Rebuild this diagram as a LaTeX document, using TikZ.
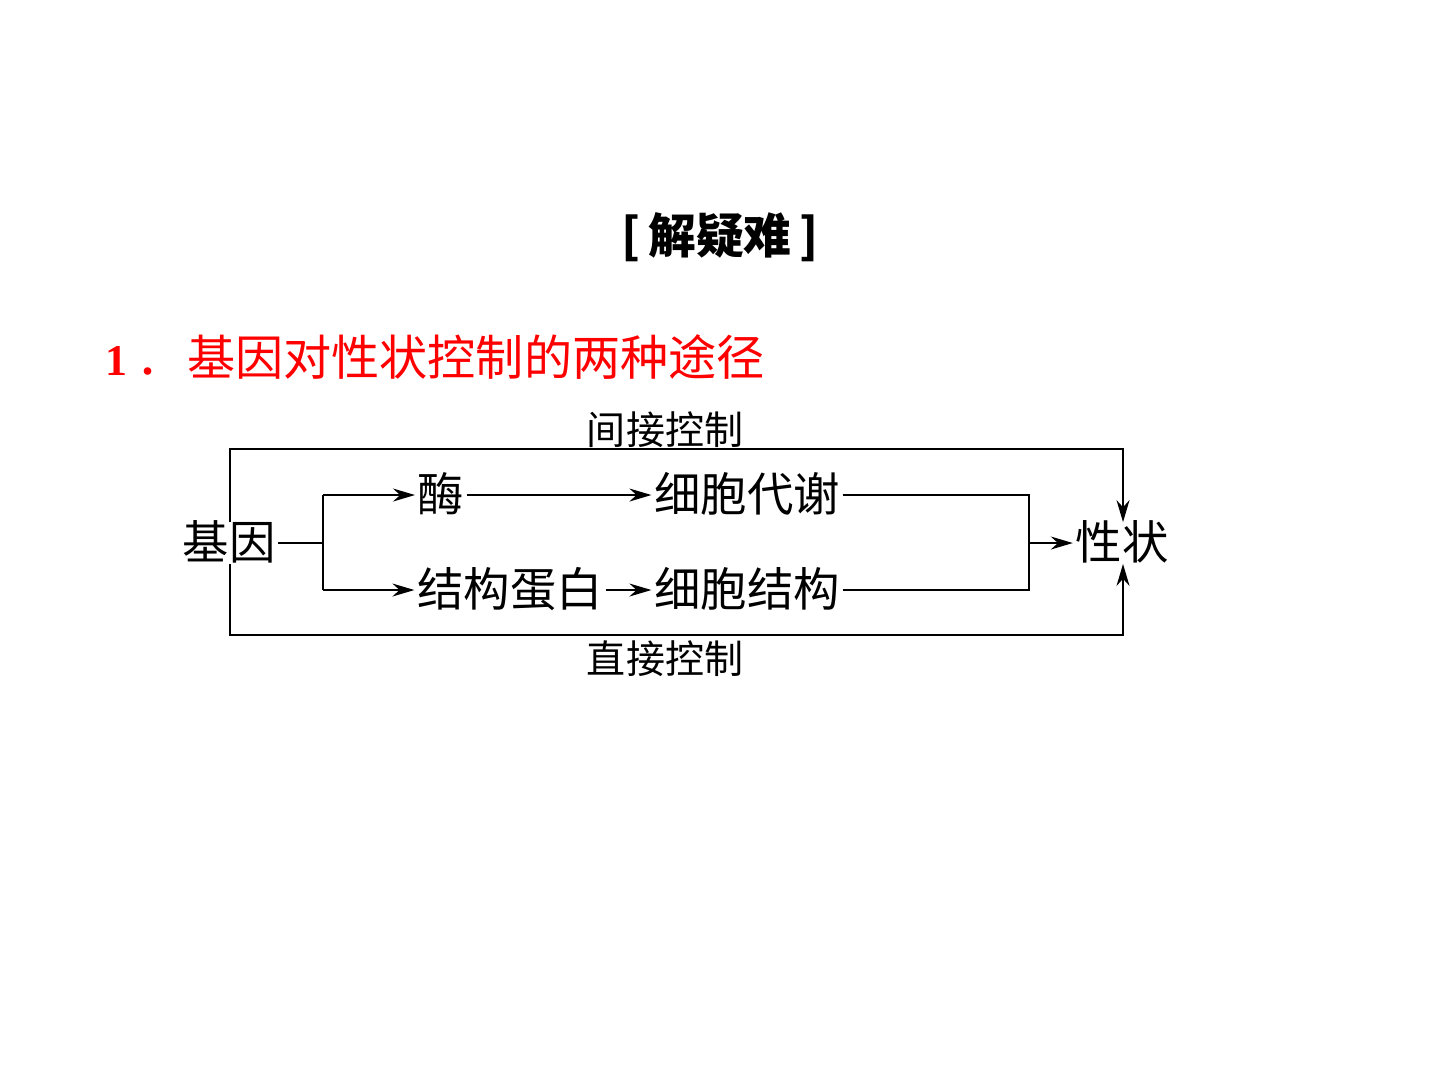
\documentclass[tikz,border=0pt]{standalone}
\usepackage{fontspec}
\setmainfont{Liberation Serif}
\newfontfamily\cjk{Noto Sans CJK SC}
\usepackage{tikz}
\usetikzlibrary{arrows.meta,positioning,calc}
\definecolor{headred}{HTML}{FF0000}

\begin{document}
\begin{tikzpicture}[
  x=0.1mm, y=-0.1mm,
  word/.style={inner sep=0.6pt, text height=0.98em, text depth=0.05em,
               font=\cjk\fontsize{13.2}{15}\selectfont},
  tag/.style={word, font=\cjk\fontsize{11.1}{13}\selectfont},
  arrow/.style={-{Stealth[length=2.2mm,width=1.3mm]}, line width=0.45pt},
  link/.style={line width=0.45pt}
]
\useasboundingbox (0,0) rectangle (1440,1080);

% Title
\node[font=\cjk\bfseries\fontsize{13.6}{15}\selectfont] (title) at (720,237) {[\,解疑难\,]};

% Heading
\node[anchor=west, inner sep=0, text=headred, font=\fontsize{12.5}{14}\selectfont] (head) at (105,357)
  {\textbf{1}\hspace{0.2em}{\cjk\fontsize{13.7}{15}\selectfont ．\hspace{0.05em}基因对性状控制的两种途径}};

% Nodes
\node[word] (gene) at (229,543) {基因};
\node[word] (enzyme) at (441,495) {酶};
\node[word] (metab) at (747,495) {细胞代谢};
\node[word] (protein) at (510,590) {结构蛋白};
\node[word] (struct) at (747,590) {细胞结构};
\node[word] (trait) at (1122,543) {性状};
\coordinate (split) at (323,543);
\coordinate (merge) at (1029,543);

% Indirect path
\draw[link] (gene.east) -- (split);
\draw[arrow] (split |- enzyme) -- (enzyme.west);
\draw[arrow] (split |- protein) -- (protein.west);
\draw[link] (split |- enzyme) -- (split |- protein);
\draw[arrow] (enzyme) -- (metab);
\draw[arrow] (protein) -- (struct);
\draw[link] (metab.east) -| (merge);
\draw[link] (struct.east) -| (merge);
\draw[arrow] (merge) -- (trait.west);

% Outer frame
\draw[arrow] (gene.north -| 230,0) -- (230,449) -| (trait.north -| 1123,0);
\draw[arrow] (gene.south -| 230,0) -- (230,635) -| (trait.south -| 1123,0);
\node[tag] (upper) at (665,428) {间接控制};
\node[tag] (lower) at (665,657) {直接控制};

\end{tikzpicture}
\end{document}
